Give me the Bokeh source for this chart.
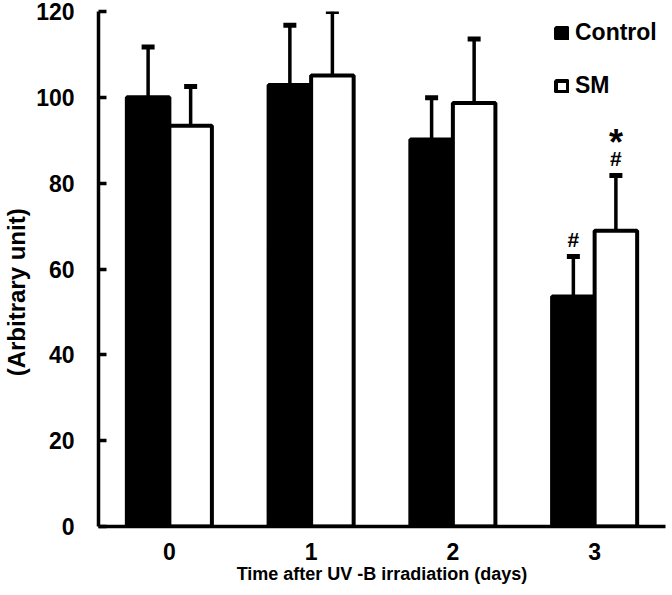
from bokeh.plotting import figure
from bokeh.models import (ColumnDataSource, FactorRange, Range1d, Whisker, TeeHead,
                          Legend, LegendItem, FixedTicker)
from bokeh.transform import dodge
from bokeh.core.properties import value
from bokeh.embed import file_html
from bokeh.resources import INLINE

# ---- data ----
days = ["0", "1", "2", "3"]
control_mean = [100.0, 102.9, 90.2, 53.6]
control_upper = [111.7, 116.8, 99.9, 62.9]
sm_mean = [93.4, 105.1, 98.7, 68.9]
sm_upper = [102.5, 120.0, 113.6, 81.8]
control_hash = ["", "", "", "#"]
sm_hash = ["", "", "", "#"]
sm_star = ["", "", "", "*"]
y_ticks = [0, 20, 40, 60, 80, 100, 120]

FONT = "Liberation Sans"

src = ColumnDataSource(dict(
    day=days, c_mean=control_mean, c_up=control_upper,
    s_mean=sm_mean, s_up=sm_upper,
    c_hash=control_hash, s_hash=sm_hash, s_star=sm_star,
))

p = figure(width=672, height=595, output_backend="svg", toolbar_location=None,
           x_range=FactorRange(*days, range_padding=0), y_range=Range1d(0, 120),
           min_border_left=96, min_border_right=7, min_border_top=11, min_border_bottom=69)
p.outline_line_color = None
p.xgrid.grid_line_color = None
p.ygrid.grid_line_color = None
p.background_fill_color = "white"
p.border_fill_color = "white"

bw = 0.3
r_c = p.vbar(x=dodge("day", -0.15, range=p.x_range), top="c_mean", width=bw, source=src,
             fill_color="black", line_color="black", line_width=4)
r_s = p.vbar(x=dodge("day", 0.15, range=p.x_range), top="s_mean", width=bw, source=src,
             fill_color="white", line_color="black", line_width=4)

for xoff, lo, hi in [(-0.15, "c_mean", "c_up"), (0.15, "s_mean", "s_up")]:
    w = Whisker(source=src, base=dodge("day", xoff, range=p.x_range), lower=lo, upper=hi,
                lower_head=None,
                upper_head=TeeHead(size=13, line_width=5, line_color="black"),
                line_color="black", line_width=3.5, level="glyph")
    p.add_layout(w)

# significance marks
p.text(x=dodge("day", -0.15, range=p.x_range), y="c_up", text="c_hash", source=src,
       text_font=value(FONT), text_font_style="bold", text_font_size="21px",
       text_align="center", text_baseline="middle", y_offset=-17, text_color="black")
p.text(x=dodge("day", 0.15, range=p.x_range), y="s_up", text="s_hash", source=src,
       text_font=value(FONT), text_font_style="bold", text_font_size="21px",
       text_align="center", text_baseline="middle", y_offset=-17, text_color="black")
p.text(x=dodge("day", 0.15, range=p.x_range), y="s_up", text="s_star", source=src,
       text_font=value(FONT), text_font_style="bold", text_font_size="36px",
       text_align="center", text_baseline="middle", y_offset=-33, text_color="black")

# axes
p.yaxis.ticker = FixedTicker(ticks=y_ticks)
for ax in (p.xaxis[0], p.yaxis[0]):
    ax.axis_line_width = 3.5
    ax.axis_line_color = "black"
    ax.major_tick_line_width = 3.5
    ax.major_tick_line_color = "black"
    ax.minor_tick_line_color = None
    ax.major_label_text_font = FONT
    ax.major_label_text_font_style = "bold"
    ax.major_label_text_font_size = "23px"
    ax.major_label_text_color = "black"

p.yaxis.major_tick_in = 8
p.yaxis.major_tick_out = 0
p.yaxis.major_label_standoff = 24
p.xaxis.major_tick_in = 0
p.xaxis.major_tick_out = 0
p.xaxis.major_label_standoff = 16

p.xaxis.axis_label = "Time after UV -B irradiation (days)"
p.xaxis.axis_label_text_font = FONT
p.xaxis.axis_label_text_font_style = "bold"
p.xaxis.axis_label_text_font_size = "18px"
p.xaxis.axis_label_text_color = "black"
p.xaxis.axis_label_standoff = 1

p.yaxis.axis_label = "(Arbitrary unit)" + "\u00a0" * 7
p.yaxis.axis_label_text_font = FONT
p.yaxis.axis_label_text_font_style = "bold"
p.yaxis.axis_label_text_font_size = "24px"
p.yaxis.axis_label_text_color = "black"
p.yaxis.axis_label_standoff = 3

legend = Legend(items=[LegendItem(label="Control", renderers=[r_c]),
                       LegendItem(label="SM", renderers=[r_s])],
                location=(456, 427), orientation="vertical",
                glyph_width=15, glyph_height=14, label_standoff=6, spacing=26,
                padding=0, margin=0, label_text_font=FONT, label_text_font_style="bold",
                label_text_font_size="23px", label_text_color="black",
                background_fill_alpha=0, border_line_alpha=0)
p.add_layout(legend)

open("out.html", "w").write(file_html(p, INLINE))
